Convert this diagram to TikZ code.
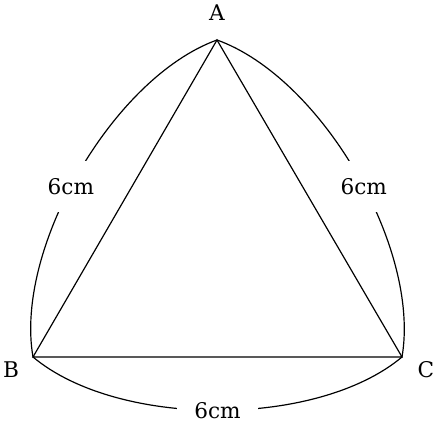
\documentclass[tikz,border=0pt]{standalone}
\usepackage{fontspec}
\setmainfont{DejaVu Serif}
\begin{document}
\begin{tikzpicture}[x=0.01626cm,y=-0.01626cm,line width=0.55pt,
  arcline/.style={looseness=0.77},
  lenlabel/.style={fill=white,inner sep=8pt,font=\normalsize},
  vlabel/.style={inner sep=0pt,font=\normalsize}]
\useasboundingbox (0,0) rectangle (440,425);
\coordinate (a) at (217,40);
\coordinate (b) at (33,357);
\coordinate (c) at (402,357);
\node[vlabel] (la) at (217,13) {A};
\node[vlabel] (lb) at (11,370) {B};
\node[vlabel] (lc) at (426,370) {C};
\draw (a) -- (b) -- (c) -- cycle;
\draw[arcline] (a) to[bend right=40] node[lenlabel,pos=0.54] (sab) {6cm} (b);
\draw[arcline] (a) to[bend left=40] node[lenlabel,pos=0.54] (sac) {6cm} (c);
\draw[arcline] (b) to[bend right=40] node[lenlabel,pos=0.5] (sbc) {6cm} (c);
\end{tikzpicture}
\end{document}
